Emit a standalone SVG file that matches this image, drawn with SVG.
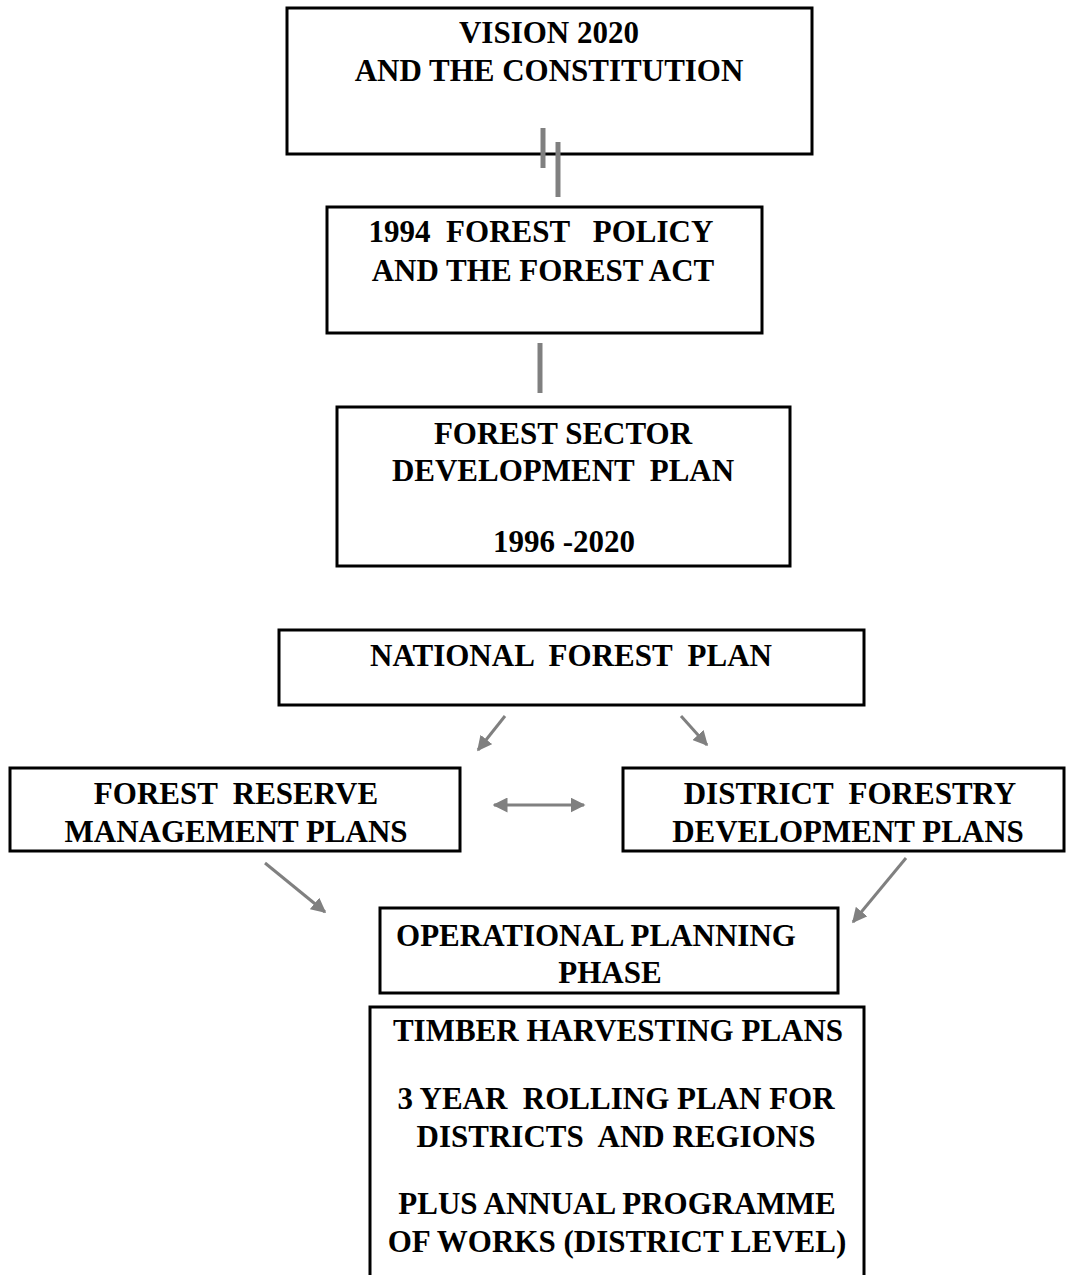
<svg xmlns="http://www.w3.org/2000/svg" width="1066" height="1275" viewBox="0 0 1066 1275">
<style>
.box{fill:#fff;stroke:#000;stroke-width:3}
text{font-family:"Liberation Serif","Times New Roman",serif;font-weight:bold;font-size:31px;fill:#000;text-anchor:middle;white-space:pre}
.c{stroke:#808080;stroke-width:3;fill:none}
.bar{stroke:#808080;stroke-width:5;fill:none}
</style>
<defs>
<marker id="ah" viewBox="0 0 10 10" refX="9" refY="5" markerWidth="5" markerHeight="5" orient="auto-start-reverse" markerUnits="strokeWidth"><path d="M0,0 L10,5 L0,10 z" fill="#808080"/></marker>
</defs>
<rect width="1066" height="1275" fill="#fff"/>
<g id="n1"><rect class="box" x="287" y="8" width="525" height="146"/><text x="549" y="43">VISION 2020</text><text x="549" y="81">AND THE CONSTITUTION</text></g>
<g id="n2"><rect class="box" x="327" y="207" width="435" height="126"/><text x="541" y="242">1994  FOREST   POLICY</text><text x="543" y="281">AND THE FOREST ACT</text></g>
<g id="n3"><rect class="box" x="337" y="407" width="453" height="159"/><text x="563" y="444">FOREST SECTOR</text><text x="563" y="481">DEVELOPMENT  PLAN</text><text x="564" y="552">1996 -2020</text></g>
<g id="n4"><rect class="box" x="279" y="630" width="585" height="75"/><text x="571" y="666">NATIONAL  FOREST  PLAN</text></g>
<g id="n5"><rect class="box" x="10" y="768" width="450" height="83"/><text x="236" y="804">FOREST  RESERVE</text><text x="236" y="842">MANAGEMENT PLANS</text></g>
<g id="n6"><rect class="box" x="623" y="768" width="441" height="83"/><text x="850" y="804">DISTRICT  FORESTRY</text><text x="848" y="842">DEVELOPMENT PLANS</text></g>
<g id="n7"><rect class="box" x="380" y="908" width="458" height="85"/><text x="596" y="946">OPERATIONAL PLANNING</text><text x="610" y="983">PHASE</text></g>
<g id="n8"><rect class="box" x="370" y="1007" width="494" height="280"/><text x="618" y="1041">TIMBER HARVESTING PLANS</text><text x="616" y="1109">3 YEAR  ROLLING PLAN FOR</text><text x="616" y="1147">DISTRICTS  AND REGIONS</text><text x="617" y="1214">PLUS ANNUAL PROGRAMME</text><text x="617" y="1252">OF WORKS (DISTRICT LEVEL)</text></g>
<g id="connectors">
<line class="bar" x1="543" y1="128" x2="543" y2="168"/>
<line class="bar" x1="558" y1="142" x2="558" y2="197"/>
<line class="bar" x1="540" y1="343" x2="540" y2="393"/>
<line class="c" x1="505" y1="716" x2="478" y2="750" marker-end="url(#ah)"/>
<line class="c" x1="681" y1="716" x2="707" y2="745" marker-end="url(#ah)"/>
<line class="c" x1="494" y1="805" x2="584" y2="805" marker-start="url(#ah)" marker-end="url(#ah)"/>
<line class="c" x1="265" y1="863" x2="325" y2="912" marker-end="url(#ah)"/>
<line class="c" x1="906" y1="858" x2="853" y2="922" marker-end="url(#ah)"/>
</g>
</svg>
